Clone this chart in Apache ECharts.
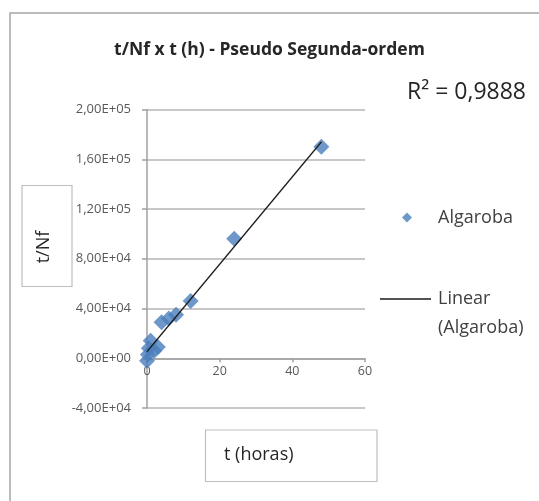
<!DOCTYPE html>
<html>
<head>
<meta charset="utf-8">
<script src="https://cdn.jsdelivr.net/npm/echarts@6/dist/echarts.min.js"></script>
<style>
  html, body { margin: 0; padding: 0; background: #ffffff; }
  #chart { width: 539px; height: 501px; }
</style>
</head>
<body>
<div id="chart"></div>
<script>
// ---- Data ----
const chartTitle = 't/Nf x t (h) - Pseudo Segunda-ordem';
const seriesName = 'Algaroba';
const trendName = 'Linear (Algaroba)';
const tHours = [0, 0.25, 0.5, 1, 2, 3, 4, 6, 8, 12, 24, 48];
const tOverNf = [-2000, 3000, 8000, 14000, 6000, 9000, 29000, 32000, 35000, 46000, 96000, 170000];
const rSquaredText = 'R² = 0,9888';
const xTicks = [0, 20, 40, 60];
const yTicks = [-40000, 0, 40000, 80000, 120000, 160000, 200000];
const xTitle = 't (horas)';
const yTitle = 't/Nf';

// ---- Linear regression (trendline) ----
const n = tHours.length;
const mx = tHours.reduce((a, b) => a + b, 0) / n;
const my = tOverNf.reduce((a, b) => a + b, 0) / n;
let sxy = 0, sxx = 0;
for (let i = 0; i < n; i++) { sxy += (tHours[i] - mx) * (tOverNf[i] - my); sxx += (tHours[i] - mx) ** 2; }
const slope = sxy / sxx;
const intercept = my - slope * mx;
const tMin = Math.min(...tHours), tMax = Math.max(...tHours);
const trendData = [[tMin, intercept + slope * tMin], [tMax, intercept + slope * tMax]];

function sci(v) {
  const s = Number(v).toExponential(2);
  const parts = s.split('e');
  const e = parseInt(parts[1], 10);
  return parts[0].replace('.', ',') + 'E' + (e < 0 ? '-' : '+') + String(Math.abs(e)).padStart(2, '0');
}

// layout
const W = 539, H = 501;
const gridTop = 109.5, gridBottom = 93;
const gridH = H - gridTop - gridBottom;
const yMin = yTicks[0], yMax = yTicks[yTicks.length - 1];
const xAxisOffset = -gridH * (0 - yMin) / (yMax - yMin); // put the x axis at y = 0

const FONT = 'Open Sans';
const chart = echarts.init(document.getElementById('chart'));
chart.setOption({
  animation: false,
  backgroundColor: '#ffffff',
  textStyle: { fontFamily: FONT },
  title: {
    text: chartTitle,
    left: 'center',
    top: 36,
    textStyle: { fontFamily: FONT, fontSize: 17.5, fontWeight: 'bold', color: '#262626' }
  },
  grid: { left: 147, right: 174, top: gridTop, bottom: gridBottom, containLabel: false },
  xAxis: {
    type: 'value',
    min: xTicks[0], max: xTicks[xTicks.length - 1], interval: xTicks[1] - xTicks[0],
    offset: xAxisOffset,
    axisLine: { onZero: false, lineStyle: { color: '#a0a0a0', width: 1.5 } },
    axisTick: { show: true, inside: false, length: 4, lineStyle: { color: '#a0a0a0', width: 1.5 } },
    axisLabel: { color: '#595959', fontSize: 12.5, margin: 7, fontFamily: FONT },
    splitLine: { show: false }
  },
  yAxis: {
    type: 'value',
    min: yMin, max: yMax, interval: yTicks[1] - yTicks[0],
    axisLine: { show: true, onZero: false, lineStyle: { color: '#a0a0a0', width: 1.5 } },
    axisTick: { show: true, inside: false, length: 5, lineStyle: { color: '#a0a0a0', width: 1.5 } },
    axisLabel: { color: '#595959', fontSize: 13, margin: 16, formatter: sci, fontFamily: FONT },
    splitLine: { show: true, lineStyle: { color: '#b4b4b4', width: 1.5 } }
  },
  legend: [
    {
      data: [{ name: seriesName, icon: 'diamond' }],
      left: 402, top: 206.5, padding: 0,
      itemWidth: 10, itemHeight: 10,
      textStyle: { fontSize: 18, color: '#404040', lineHeight: 22, padding: [0, 0, 0, 21], fontFamily: FONT }
    },
    {
      data: [{ name: trendName, icon: 'rect' }],
      left: 380, top: 255.5, padding: 0,
      itemWidth: 51, itemHeight: 1.6,
      formatter: () => ' \nLinear\n(Algaroba)',
      textStyle: { fontSize: 18, color: '#404040', lineHeight: 29, padding: [0, 0, 0, 2], fontFamily: FONT }
    }
  ],
  graphic: [
    { type: 'rect', shape: { x: 10, y: 13, width: 700, height: 700 }, style: { fill: 'none', stroke: '#a6a6a6', lineWidth: 1.5 }, silent: true, z: -10 },
    { type: 'rect', shape: { x: 22, y: 185.5, width: 50, height: 101 }, style: { fill: '#fff', stroke: '#bfbfbf', lineWidth: 1.2 }, silent: true },
    { type: 'text', x: 44, y: 247, rotation: Math.PI / 2, style: { text: yTitle, fontSize: 18, fontFamily: FONT, fill: '#262626', align: 'center', verticalAlign: 'middle' }, silent: true },
    { type: 'rect', shape: { x: 205.5, y: 430, width: 171.5, height: 51.5 }, style: { fill: '#fff', stroke: '#bfbfbf', lineWidth: 1.2 }, silent: true },
    { type: 'text', x: 224, y: 455, style: { text: xTitle, fontSize: 18, fontFamily: FONT, fill: '#262626', align: 'left', verticalAlign: 'middle' }, silent: true },
    { type: 'text', x: 407, y: 92, style: { text: rSquaredText, fontSize: 23, fontFamily: FONT, fill: '#262626', align: 'left', verticalAlign: 'middle' }, silent: true }
  ],
  series: [
    {
      name: seriesName,
      type: 'scatter',
      symbol: 'diamond',
      symbolSize: 16,
      itemStyle: { color: '#4a7ebb' },
      data: tHours.map((t, i) => [t, tOverNf[i]]),
      z: 2
    },
    {
      name: trendName,
      type: 'line',
      symbol: 'none',
      lineStyle: { color: '#1a1a1a', width: 1.5 },
      itemStyle: { color: '#1a1a1a' },
      data: trendData,
      z: 3
    }
  ]
});
</script>
</body>
</html>
